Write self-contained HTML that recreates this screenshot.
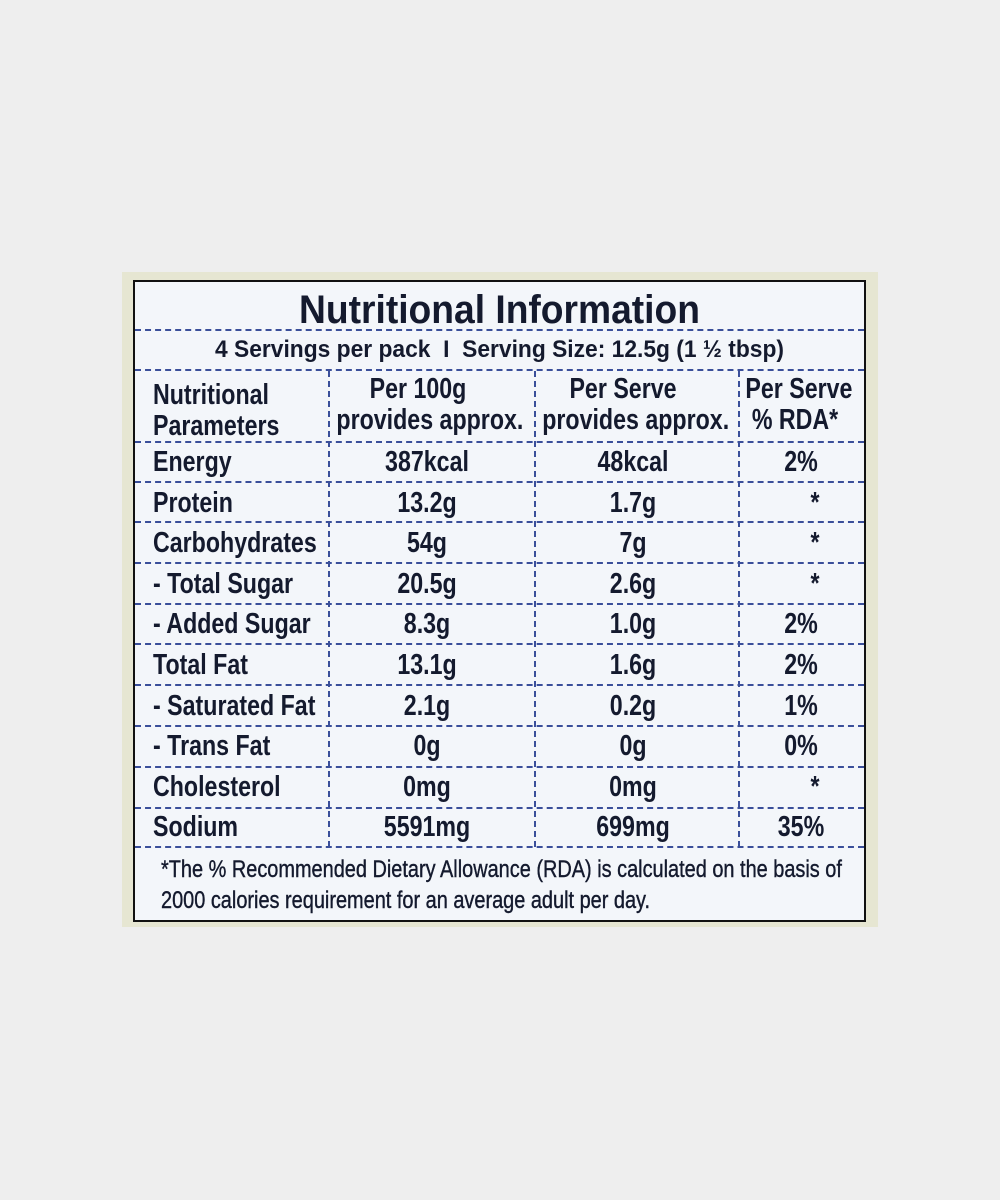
<!DOCTYPE html>
<html><head><style>
body{margin:0;width:1000px;height:1200px;background:#eeeeee;position:relative;overflow:hidden;font-family:"Liberation Sans",sans-serif;color:#141a2e}
#panel{position:absolute;left:122px;top:272px;width:756px;height:655px;background:#e6e6d2}
#box{position:absolute;left:133px;top:280px;width:729px;height:638px;border:2px solid #111;background:#f3f6fa}
.h{position:absolute;left:0;width:729px;height:0;border-top:2px dashed #3a4f9a}
.v{position:absolute;width:0;border-left:2px dashed #3a4f9a}
.t{position:absolute;font-weight:bold;white-space:nowrap;line-height:1;transform:scaleX(0.8);transform-origin:left center}
.c{text-align:center;transform-origin:center center}
</style></head><body>
<div id="panel"></div>
<div id="box">
<div class="t c" style="left:0;width:729px;top:8px;font-size:40px;transform:scaleX(0.93)">Nutritional Information</div>
<div class="h" style="top:47px"></div>
<div class="t c" style="left:0;width:729px;top:56px;font-size:24px;transform:scaleX(0.95)">4 Servings per pack &nbsp;I&nbsp; Serving Size: 12.5g (1 ½ tbsp)</div>
<div class="h" style="top:87px"></div>
<div class="v" style="left:193px;top:89px;height:476px"></div>
<div class="v" style="left:399px;top:89px;height:476px"></div>
<div class="v" style="left:603px;top:89px;height:476px"></div>
<div class="t" style="left:18px;top:98px;font-size:29px;line-height:31px">Nutritional<br>Parameters</div>
<div class="t c" style="left:181px;width:204px;top:92px;font-size:29px;line-height:31px">Per 100g<br>provides approx.</div>
<div class="t c" style="left:387px;width:202px;top:92px;font-size:29px;line-height:31px">Per Serve<br>provides approx.</div>
<div class="t c" style="left:598px;width:124px;top:92px;font-size:29px;line-height:31px">Per Serve<br>% RDA*</div>
<div class="h" style="top:159px"></div>
<div class="h" style="top:199px"></div>
<div class="h" style="top:239px"></div>
<div class="h" style="top:280px"></div>
<div class="h" style="top:321px"></div>
<div class="h" style="top:361px"></div>
<div class="h" style="top:402px"></div>
<div class="h" style="top:443px"></div>
<div class="h" style="top:484px"></div>
<div class="h" style="top:525px"></div>
<div class="h" style="top:564px"></div>
</div>
<script>
var d=[["Energy","387kcal","48kcal","2%"],["Protein","13.2g","1.7g","*"],["Carbohydrates","54g","7g","*"],["- Total Sugar","20.5g","2.6g","*"],["- Added Sugar","8.3g","1.0g","2%"],["Total Fat","13.1g","1.6g","2%"],["- Saturated Fat","2.1g","0.2g","1%"],["- Trans Fat","0g","0g","0%"],["Cholesterol","0mg","0mg","*"],["Sodium","5591mg","699mg","35%"]];
var b=document.getElementById('box'),h='';
for(var i=0;i<d.length;i++){var y=166+i*40.6;
h+='<div class="t" style="left:18px;top:'+y+'px;font-size:29px">'+d[i][0]+'</div>';
h+='<div class="t c" style="left:190px;width:204px;top:'+y+'px;font-size:29px">'+d[i][1]+'</div>';
h+='<div class="t c" style="left:397px;width:202px;top:'+y+'px;font-size:29px">'+d[i][2]+'</div>';
var rx=d[i][3]=='*'?617:603;
h+='<div class="t c" style="left:'+rx+'px;width:126px;top:'+y+'px;font-size:29px">'+d[i][3]+'</div>';}
h+='<div class="t" style="left:26px;top:572px;font-size:24px;font-weight:normal;line-height:31px;-webkit-text-stroke:0.4px #141a2e;transform:scaleX(0.83)">*The % Recommended Dietary Allowance (RDA) is calculated on the basis of<br>2000 calories requirement for an average adult per day.</div>';
b.insertAdjacentHTML('beforeend',h);
</script>
</body></html>
